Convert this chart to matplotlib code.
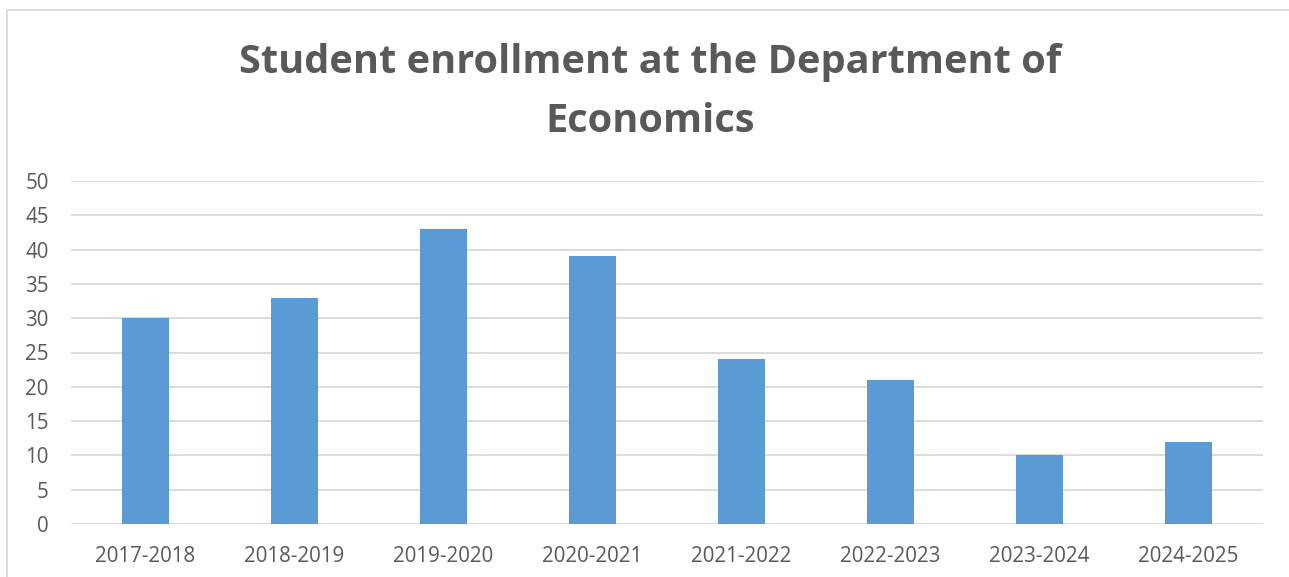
import matplotlib
matplotlib.use("Agg")
import matplotlib.pyplot as plt
from matplotlib.lines import Line2D

years = ["2017-2018", "2018-2019", "2019-2020", "2020-2021",
         "2021-2022", "2022-2023", "2023-2024", "2024-2025"]
students = [30, 33, 43, 39, 24, 21, 10, 12]
yticks = [0, 5, 10, 15, 20, 25, 30, 35, 40, 45, 50]
title = "Student enrollment at the Department of\nEconomics"

W, H = 1289, 577
fig = plt.figure(figsize=(W / 100, H / 100), dpi=100)
fig.patch.set_facecolor("white")

font = ["Open Sans", "DejaVu Sans"]
grey = "#595959"

# plot area: x 71..1263, y 181..524 (pixels)
left, right, top, bottom = 71, 1263, 181, 524
ax = fig.add_axes([left / W, 1 - bottom / H, (right - left) / W, (bottom - top) / H])
x = range(len(years))
ax.bar(x, students, width=0.315, color="#5B9BD5", zorder=3)
ax.set_xlim(-0.5, len(years) - 0.5)
ax.set_ylim(0, 50)
ax.set_yticks(yticks)
ax.set_xticks(list(x))
ax.set_xticklabels(years)
ax.grid(axis="y", color="#D9D9D9", linewidth=1.3, zorder=0)
for s in ax.spines.values():
    s.set_visible(False)
ax.tick_params(length=0, labelsize=14.8, labelcolor=grey, pad=0)
ax.tick_params(axis="x", pad=16)
ax.tick_params(axis="y", pad=16)
for lab in ax.get_xticklabels() + ax.get_yticklabels():
    lab.set_family(font)
    lab.set_color(grey)

fig.text(650 / W, 1 - 92 / H, title, ha="center", va="center",
         fontsize=28.6, fontweight="bold", color=grey, family=font,
         linespacing=1.68)

# chart border (top and left)
fig.add_artist(Line2D([7 / W, 1], [1 - 10 / H, 1 - 10 / H], color="#D9D9D9", lw=1.3))
fig.add_artist(Line2D([7 / W, 7 / W], [0, 1 - 10 / H], color="#D9D9D9", lw=1.3))

fig.savefig("out.png", dpi=100)
